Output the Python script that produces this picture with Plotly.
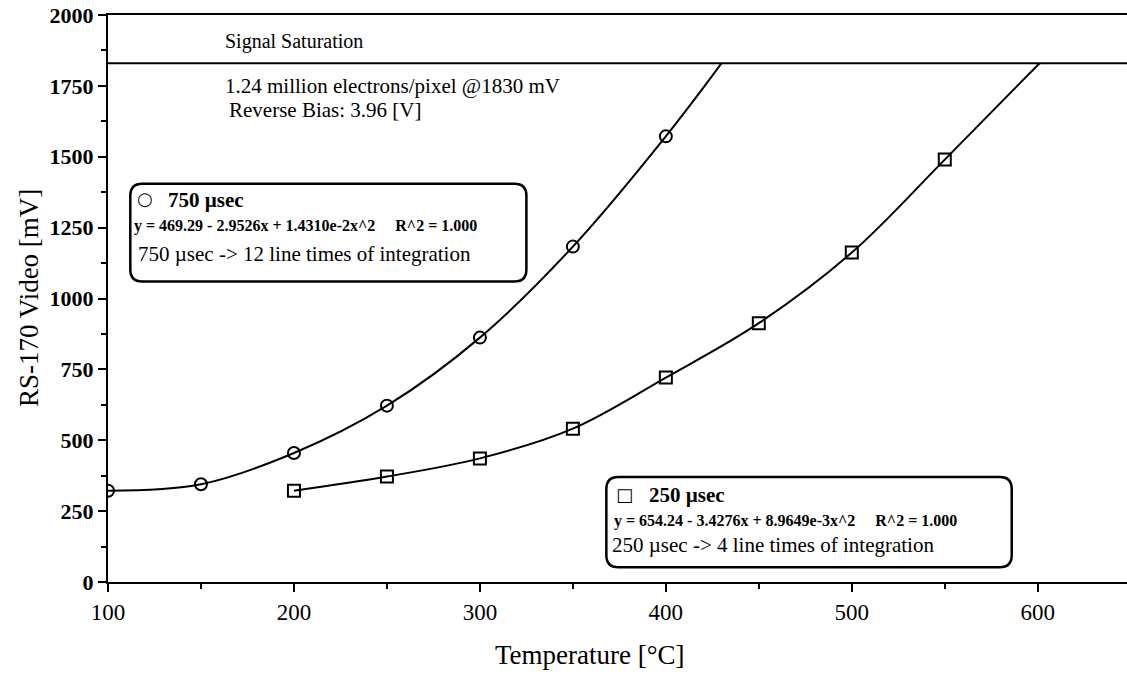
import plotly.graph_objects as go

# Measured RS-170 video level versus temperature for two integration times
temp_750 = [100, 150, 200, 250, 300, 350, 400]
video_750 = [322, 345, 455, 622, 862, 1183, 1572]

temp_250 = [200, 250, 300, 350, 400, 450, 500, 550]
video_250 = [322, 372, 436, 541, 721, 913, 1162, 1490]

# Where each fitted curve meets the saturation level
sat_level = 1830
end_750 = 430
end_250 = 601

x_ticks = [100, 200, 300, 400, 500, 600]
y_ticks = [0, 250, 500, 750, 1000, 1250, 1500, 1750, 2000]

FONT = "Liberation Serif"
W, H = 1127, 675
ML, MR, MT, MB = 108, 0, 15, 93
XR = [100, 648]
YR = [0, 2000]

px_per_x = (W - ML - MR) / (XR[1] - XR[0])
px_per_y = (H - MT - MB) / (YR[1] - YR[0])


def rounded_box(x0, y0, x1, y1, r_px=12):
    """Rounded rectangle path in data coordinates."""
    rx = r_px / px_per_x
    ry = r_px / px_per_y
    return (
        f"M {x0 + rx},{y1} L {x1 - rx},{y1} Q {x1},{y1} {x1},{y1 - ry} "
        f"L {x1},{y0 + ry} Q {x1},{y0} {x1 - rx},{y0} "
        f"L {x0 + rx},{y0} Q {x0},{y0} {x0},{y0 + ry} "
        f"L {x0},{y1 - ry} Q {x0},{y1} {x0 + rx},{y1} Z"
    )


fig = go.Figure()

fig.add_trace(go.Scatter(
    x=temp_750 + [end_750], y=video_750 + [sat_level],
    mode="lines", line=dict(color="black", width=2, shape="spline", smoothing=1.0),
    hoverinfo="skip", showlegend=False,
))
fig.add_trace(go.Scatter(
    x=temp_750, y=video_750, mode="markers",
    marker=dict(symbol="circle-open", size=12, color="black", line=dict(width=2)),
    showlegend=False,
))
fig.add_trace(go.Scatter(
    x=temp_250 + [end_250], y=video_250 + [sat_level],
    mode="lines", line=dict(color="black", width=2, shape="spline", smoothing=1.0),
    hoverinfo="skip", showlegend=False,
))
fig.add_trace(go.Scatter(
    x=temp_250, y=video_250, mode="markers",
    marker=dict(symbol="square-open", size=12, color="black", line=dict(width=2)),
    showlegend=False,
))

shapes = [
    dict(type="line", xref="x", yref="y", x0=XR[0], x1=XR[1], y0=sat_level, y1=sat_level,
         line=dict(color="black", width=2)),
    dict(type="path", xref="x", yref="y", path=rounded_box(112, 1060, 325, 1405),
         line=dict(color="black", width=2.5)),
    dict(type="path", xref="x", yref="y", path=rounded_box(368, 52, 586, 370),
         line=dict(color="black", width=2.5)),
]


def txt(x, y, s, size, bold=False, anchor="left", family=FONT):
    return dict(
        x=x, y=y, xref="x", yref="y", text=f"<b>{s}</b>" if bold else s,
        showarrow=False, xanchor=anchor, yanchor="middle",
        font=dict(family=family, size=size, color="black"),
    )


annotations = [
    txt(162, 1905, "Signal Saturation", 20),
    txt(162, 1750, "1.24 million electrons/pixel @1830 mV", 21),
    txt(164, 1665, "Reverse Bias: 3.96 [V]", 21),
    # 750 usec box
    txt(120, 1352, "○", 18, bold=True, anchor="center", family="DejaVu Sans"),
    txt(131, 1347, "750 µsec", 21, bold=True),
    txt(113, 1255, "y = 469.29 - 2.9526x + 1.4310e-2x^2     R^2 = 1.000", 16, bold=True),
    txt(115, 1158, "750 µsec -> 12 line times of integration", 21),
    # 250 usec box
    txt(378, 310, "□", 18, bold=True, anchor="center", family="DejaVu Sans"),
    txt(390, 306, "250 µsec", 21, bold=True),
    txt(371, 214, "y = 654.24 - 3.4276x + 8.9649e-3x^2     R^2 = 1.000", 16, bold=True),
    txt(370, 130, "250 µsec -> 4 line times of integration", 21),
    # axis titles
    dict(x=0.473, y=-0.128, xref="paper", yref="paper", text="Temperature [°C]",
         showarrow=False, xanchor="center", yanchor="middle",
         font=dict(family=FONT, size=27, color="black")),
    dict(x=-0.078, y=0.5, xref="paper", yref="paper", text="RS-170 Video [mV]",
         showarrow=False, xanchor="center", yanchor="middle", textangle=-90,
         font=dict(family=FONT, size=27, color="black")),
]

fig.update_layout(
    width=W, height=H,
    margin=dict(l=ML, r=MR, t=MT, b=MB),
    paper_bgcolor="white", plot_bgcolor="white",
    shapes=shapes, annotations=annotations,
    font=dict(family=FONT, color="black"),
)
fig.update_xaxes(
    range=XR, tickvals=x_ticks, ticktext=[str(v) for v in x_ticks],
    showgrid=False, zeroline=False, showline=True, linecolor="black", linewidth=2,
    mirror=True, ticks="outside", ticklen=8, tickwidth=2, tickcolor="black",
    minor=dict(dtick=50, tick0=100, ticks="outside", ticklen=5, tickwidth=1.5, tickcolor="black"),
    tickfont=dict(family=FONT, size=23, color="black"),
)
fig.update_yaxes(
    range=YR, tickvals=y_ticks, ticktext=[f"<b>{v}</b>" for v in y_ticks],
    showgrid=False, zeroline=False, showline=True, linecolor="black", linewidth=2,
    mirror=False, ticks="outside", ticklen=8, tickwidth=2, tickcolor="black",
    minor=dict(dtick=125, tick0=0, ticks="outside", ticklen=5, tickwidth=1.5, tickcolor="black"),
    tickfont=dict(family=FONT, size=22, color="black"),
)

fig.write_html("out.html")
